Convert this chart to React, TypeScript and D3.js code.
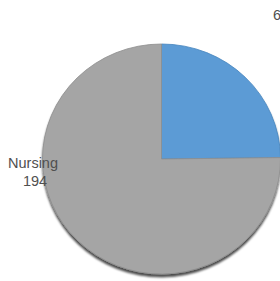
import * as d3 from "d3";
import { useEffect, useRef } from "react";

// slices in drawing order, clockwise from 12 o'clock
const categories = ["Other", "Nursing"];
const values = [64, 194];
const colors = ["#5B9BD5", "#A5A5A5"];
const edges = ["#4A86BE", "#8F8F8F"];
// the top-right label only shows its value, cut at the frame edge
const showName = [false, true];

export default function App() {
  const ref = useRef<SVGSVGElement>(null);
  const width = 280;
  const height = 281;
  const cx = 161.5;
  const cy = 159;
  const radius = 115;

  useEffect(() => {
    const svg = d3.select(ref.current);
    svg.selectAll("*").remove();

    const defs = svg.append("defs");
    defs
      .append("filter")
      .attr("id", "shadow")
      .attr("x", "-10%")
      .attr("y", "-10%")
      .attr("width", "120%")
      .attr("height", "120%")
      .append("feDropShadow")
      .attr("dx", 0)
      .attr("dy", 3)
      .attr("stdDeviation", 1.2)
      .attr("flood-color", "#000")
      .attr("flood-opacity", 0.7);

    const data = categories.map((c, i) => ({ name: c, value: values[i], i }));

    const pie = d3
      .pie<{ name: string; value: number; i: number }>()
      .sort(null)
      .value((d) => d.value);

    const arc = d3
      .arc<d3.PieArcDatum<{ name: string; value: number; i: number }>>()
      .innerRadius(0)
      .outerRadius(radius);

    const g = svg
      .append("g")
      .attr("transform", `translate(${cx},${cy}) scale(1.035,1)`)
      .attr("filter", "url(#shadow)");

    g.selectAll("path")
      .data(pie(data))
      .join("path")
      .attr("d", arc)
      .attr("fill", (d) => colors[d.data.i])
      .attr("stroke", (d) => edges[d.data.i])
      .attr("stroke-width", 0.8);

    // data labels: name on top, value below
    const labelPos: [number, number][] = [
      [281, 2],
      [33, 168],
    ];
    const labels = svg
      .append("g")
      .attr("font-family", "'Liberation Sans', Arial, sans-serif")
      .attr("font-size", 14.5)
      .attr("fill", "#505050")
      .attr("text-anchor", "middle");

    data.forEach((d, i) => {
      const t = labels
        .append("text")
        .attr("x", labelPos[i][0])
        .attr("y", labelPos[i][1]);
      if (showName[i]) t.append("tspan").attr("x", labelPos[i][0]).text(d.name);
      t.append("tspan")
        .attr("x", labelPos[i][0] + (i === 1 ? 2 : 0))
        .attr("dy", 18)
        .text(d.value);
    });
  }, []);

  return (
    <div style={{ position: "absolute", left: 0, top: 0 }}>
      <svg ref={ref} width={width} height={height} style={{ display: "block", background: "#fff" }} />
    </div>
  );
}
